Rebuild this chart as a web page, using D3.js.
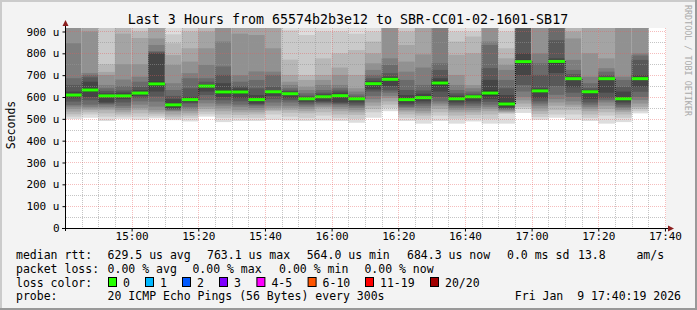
<!DOCTYPE html>
<html><head><meta charset="utf-8">
<script src="https://cdn.jsdelivr.net/npm/d3@7"></script>
<style>
html,body{margin:0;padding:0;background:#f3f3f3;}
svg{display:block;}
text{font-family:"DejaVu Sans Mono",monospace;white-space:pre;}
</style></head><body>
<svg id="c" width="697" height="310"></svg>
<script>
const title = "Last 3 Hours from 65574b2b3e12 to SBR-CC01-02-1601-SB17";
const yAxisTitle = "Seconds";
const watermark = "RRDTOOL / TOBI OETIKER";
const startTime = "14:40:19", endTime = "17:40:19";
const barStart = ["14:40","14:45","14:50","14:55","15:00","15:05","15:10","15:15","15:20","15:25",
  "15:30","15:35","15:40","15:45","15:50","15:55","16:00","16:05","16:10","16:15",
  "16:20","16:25","16:30","16:35","16:40","16:45","16:50","16:55","17:00","17:05",
  "17:10","17:15","17:20","17:25","17:30"];
const medians = [609,632,605,605,618,660,564,588,650,623,
  623,588,624,615,592,601,606,592,661,681,
  588,597,664,592,601,618,568,762,628,763,
  684,624,684,592,684];
const I = Infinity; // ping above graph maximum
const pings = [
 [499,510,521,533,545,556,563,579,594,604,614,625,655,686,846,I,I,I,I,I],
 [505,520,530,540,548,555,565,585,600,624,640,670,690,701,710,900,I,I,I,I],
 [490,510,525,540,548,555,565,570,575,601,609,617,628,640,655,701,715,750,I,I],
 [500,510,520,530,540,550,560,575,590,600,610,620,630,650,680,750,890,I,I,I],
 [495,510,525,540,550,565,580,595,605,614,622,632,647,670,693,750,870,900,I,I],
 [502,511,521,530,540,556,579,602,625,650,670,800,805,810,838,868,I,I,I,I],
 [494,500,510,520,533,537,540,545,548,556,570,590,605,632,663,747,792,846,887,I],
 [488,505,515,525,535,545,555,570,575,584,592,600,640,686,709,762,823,900,I,I],
 [510,521,533,545,556,571,586,609,625,646,654,658,670,686,747,823,900,I,I,I],
 [485,505,520,535,548,560,570,585,600,614,632,663,701,740,854,I,I,I,I,I],
 [490,505,518,530,540,555,565,580,595,616,630,640,650,670,700,890,I,I,I,I],
 [490,505,520,530,540,550,560,565,570,584,592,609,640,678,717,884,I,I,I,I],
 [495,520,535,540,550,560,575,590,605,620,628,632,647,701,716,823,I,I,I,I],
 [492,510,528,540,550,560,575,585,595,610,620,625,630,640,655,670,701,771,905,I],
 [490,505,525,535,545,555,562,570,578,588,596,600,606,617,632,647,678,701,884,I],
 [492,515,530,548,555,562,570,575,580,595,607,612,620,632,655,678,701,777,900,I],
 [490,505,520,535,545,555,565,570,575,600,612,620,630,640,655,701,735,800,900,I],
 [482,500,518,530,540,550,558,565,575,588,596,597,602,612,625,640,701,815,890,I],
 [505,530,545,560,575,590,605,625,635,654,668,674,686,701,724,754,800,854,900,I],
 [535,550,565,580,595,605,620,630,650,674,688,693,709,747,777,I,I,I,I,I],
 [490,505,520,533,540,550,555,562,570,581,595,609,632,678,716,762,838,900,I,I],
 [478,500,515,525,535,548,560,570,580,592,602,615,630,655,735,795,I,I,I,I],
 [490,515,530,545,560,570,580,600,625,653,675,686,724,754,I,I,I,I,I,I],
 [478,500,515,530,540,548,558,565,575,586,598,606,617,632,655,701,793,854,900,I],
 [488,502,518,530,540,550,560,570,580,595,607,609,615,625,640,655,800,877,900,I],
 [478,500,520,535,545,555,565,578,590,606,630,678,732,838,854,I,I,I,I,I],
 [478,522,528,530,535,540,545,548,552,560,576,609,640,678,724,747,777,823,900,I],
 [527,545,555,570,585,600,625,655,700,754,770,800,I,I,I,I,I,I,I,I],
 [495,508,522,535,548,560,570,580,595,621,635,640,701,754,800,I,I,I,I,I],
 [505,520,540,560,575,590,610,650,710,754,770,777,860,I,I,I,I,I,I,I],
 [495,520,540,555,565,580,600,620,645,678,690,693,705,724,770,868,900,I,I,I],
 [490,505,520,535,545,555,565,575,590,618,630,632,640,663,693,800,I,I,I,I],
 [478,515,530,545,560,575,585,595,620,678,690,692,700,716,732,777,I,I,I,I],
 [485,505,520,532,540,548,555,565,575,586,598,625,647,678,693,I,I,I,I,I],
 [525,535,545,555,570,586,600,624,647,678,690,700,770,790,800,I,I,I,I,I]
];
const yTickValues = [0,100,200,300,400,500,600,700,800,900];
const yTickLabels = ["0","100 u","200 u","300 u","400 u","500 u","600 u","700 u","800 u","900 u"];
const xTickLabels = ["15:00","15:20","15:40","16:00","16:20","16:40","17:00","17:20","17:40"];
const medianLabels = ["median rtt:","629.5 us avg","763.1 us max","564.0 us min","684.3 us now","0.0 ms sd","13.8","am/s"];
const lossStatLabels = ["packet loss:","0.00 % avg","0.00 % max","0.00 % min","0.00 % now"];
const lossLabels = ["0","1","2","3","4-5","6-10","11-19","20/20"];
const lossColors = ["#26ff00","#00b8ff","#0059ff","#7e00ff","#ff00ff","#ff5500","#ff0000","#a10000"];
const probeLabels = ["probe:","20 ICMP Echo Pings (56 Bytes) every 300s","Fri Jan  9 17:40:19 2026"];

// ---- layout ----
const W = 697, H = 310;
const L = 66, R = 666, T = 28, B = 228;
const yMax = 916;
const svg = d3.select("#c");
const day = (s) => { const p = s.split(":").map(Number); return new Date(2026,0,9,p[0],p[1],p[2]||0); };
const x = d3.scaleTime().domain([day(startTime), day(endTime)]).range([L, R]);
const y = d3.scaleLinear().domain([0, yMax]).range([B, T]).clamp(true);
const step = 5 * 60 * 1000;

// background + border
svg.append("rect").attr("width",W).attr("height",H).attr("fill","#f3f3f3");
svg.append("rect").attr("x",0).attr("y",0).attr("width",W).attr("height",2).attr("fill","#cbcbcb");
svg.append("rect").attr("x",0).attr("y",0).attr("width",2).attr("height",H).attr("fill","#cbcbcb");
svg.append("rect").attr("x",0).attr("y",H-2).attr("width",W).attr("height",2).attr("fill","#999");
svg.append("rect").attr("x",W-2).attr("y",0).attr("width",2).attr("height",H).attr("fill","#999");

// canvas
svg.append("rect").attr("x",L).attr("y",T).attr("width",R-L).attr("height",B-T).attr("fill","#fff");
svg.append("clipPath").attr("id","clip").append("rect").attr("x",L).attr("y",T).attr("width",R-L).attr("height",B-T);
const plot = svg.append("g").attr("clip-path","url(#clip)");

// smoke
const half = 10;
barStart.forEach((s, i) => {
  const t0 = day(s), t1 = new Date(+t0 + step);
  const p = pings[i];
  for (let k = 1; k <= half; k++) {
    const c = Math.floor(190 / half * (half - k)) + 50;
    const lo = p[k-1], hi = p[20-k];
    const yt = y(hi), yb = y(lo);
    plot.append("rect")
      .attr("x", x(t0)).attr("width", x(t1) - x(t0))
      .attr("y", yt).attr("height", Math.max(0, yb - yt))
      .attr("fill", d3.rgb(c,c,c));
  }
});

// median step connectors
for (let i = 1; i < barStart.length; i++) {
  const xb = x(day(barStart[i]));
  plot.append("line").attr("x1",xb+0.5).attr("x2",xb+0.5)
    .attr("y1", y(medians[i-1])).attr("y2", y(medians[i]))
    .attr("stroke","#111").attr("stroke-width",1).attr("stroke-dasharray","1,1");
}
// medians
barStart.forEach((s, i) => {
  const t0 = day(s), t1 = new Date(+t0 + step);
  plot.append("rect").attr("x", x(t0)).attr("width", x(t1)-x(t0))
    .attr("y", y(medians[i]) - 1.5).attr("height", 3).attr("fill", lossColors[0]);
});

// grid
const grid = svg.append("g");
const minorCol = "rgba(150,150,150,0.55)", majorCol = "rgba(230,90,90,0.4)";
const minorY = d3.range(50, 901, 100);
minorY.forEach(v => grid.append("line").attr("x1",L).attr("x2",R).attr("y1",Math.round(y(v))+0.5).attr("y2",Math.round(y(v))+0.5)
  .attr("stroke",minorCol).attr("stroke-dasharray","1,1"));
const xMinor = d3.timeMinute.every(5).range(day(startTime), day(endTime));
xMinor.filter(d => d.getMinutes() % 20 !== 0).forEach(d => grid.append("line")
  .attr("x1",Math.round(x(d))+0.5).attr("x2",Math.round(x(d))+0.5).attr("y1",T).attr("y2",B)
  .attr("stroke",minorCol).attr("stroke-dasharray","1,1"));
yTickValues.slice(1).forEach(v => grid.append("line").attr("x1",L).attr("x2",R).attr("y1",Math.round(y(v))+0.5).attr("y2",Math.round(y(v))+0.5)
  .attr("stroke",majorCol).attr("stroke-dasharray","1,1"));
const xMajor = xTickLabels.map(s => day(s));
xMajor.forEach(d => grid.append("line").attr("x1",Math.round(x(d))+0.5).attr("x2",Math.round(x(d))+0.5).attr("y1",T).attr("y2",B)
  .attr("stroke",majorCol).attr("stroke-dasharray","1,1"));

// axes
const axisCol = "#000";
const xAxis = d3.axisBottom(x).tickValues(xMajor).tickFormat((d,i) => xTickLabels[i]).tickSize(3).tickSizeOuter(0);
const gx = svg.append("g").attr("transform",`translate(0,${B+0.5})`).call(xAxis);
gx.select(".domain").remove();
gx.selectAll("line").attr("stroke",axisCol);
gx.selectAll("text").attr("font-size","11px").attr("fill","#000").attr("dy","0.55em").attr("y",5)
  .attr("font-family","DejaVu Sans Mono");
const yAxis = d3.axisLeft(y).tickValues(yTickValues).tickFormat((d,i) => yTickLabels[i]).tickSize(3).tickSizeOuter(0);
const gy = svg.append("g").attr("transform",`translate(${L-0.5},0)`).call(yAxis);
gy.select(".domain").remove();
gy.selectAll("line").attr("stroke",axisCol);
gy.selectAll("text").attr("font-size","11px").attr("fill","#000").attr("x",-6)
  .attr("font-family","DejaVu Sans Mono");
svg.append("line").attr("x1",62).attr("x2",670).attr("y1",B+0.5).attr("y2",B+0.5).attr("stroke",axisCol);
svg.append("line").attr("x1",L-0.5).attr("x2",L-0.5).attr("y1",B+3).attr("y2",24).attr("stroke",axisCol);
const arrowCol = "#8b1e1e";
svg.append("path").attr("d",`M${L-3.5},${26} L${L-0.5},${20} L${L+2.5},${26} Z`).attr("fill",arrowCol);
svg.append("path").attr("d",`M${668},${B-2.5} L${674},${B+0.5} L${668},${B+3.5} Z`).attr("fill",arrowCol);

// title
svg.append("text").attr("x",348).attr("y",24).attr("text-anchor","middle").attr("font-size","13.3px").text(title);
// y axis title
svg.append("text").attr("transform","translate(15,125) rotate(-90)").attr("text-anchor","middle")
  .attr("font-size","11.5px").text(yAxisTitle);
// watermark
svg.append("text").attr("transform","translate(685,5) rotate(90)").attr("font-size","8.4px").attr("fill","#aaa").text(watermark);

// legend
const lf = "11.5px";
const row1x = [16,107.6,207,306.7,407,507,578,636.4];
medianLabels.forEach((t,i) => svg.append("text").attr("x",row1x[i]).attr("y",258.5).attr("font-size",lf).text(t));
const row2x = [16,107.6,192.4,279.1,364.4];
lossStatLabels.forEach((t,i) => svg.append("text").attr("x",row2x[i]).attr("y",272.5).attr("font-size",lf).text(t));
svg.append("text").attr("x",16).attr("y",286.5).attr("font-size",lf).text("loss color:");
const swX = [108,145,182,219,256.4,307.6,365,430];
lossLabels.forEach((t,i) => {
  svg.append("rect").attr("x",swX[i]+0.5).attr("y",277.5).attr("width",8).attr("height",9)
    .attr("fill",lossColors[i]).attr("stroke","#000").attr("stroke-width",1);
  svg.append("text").attr("x",swX[i]+15).attr("y",286.5).attr("font-size",lf).text(t);
});
svg.append("text").attr("x",16).attr("y",300).attr("font-size",lf).text(probeLabels[0]);
svg.append("text").attr("x",107.6).attr("y",300).attr("font-size",lf).text(probeLabels[1]);
svg.append("text").attr("x",681).attr("y",300).attr("text-anchor","end").attr("font-size",lf).text(probeLabels[2]);
</script>
</body></html>
